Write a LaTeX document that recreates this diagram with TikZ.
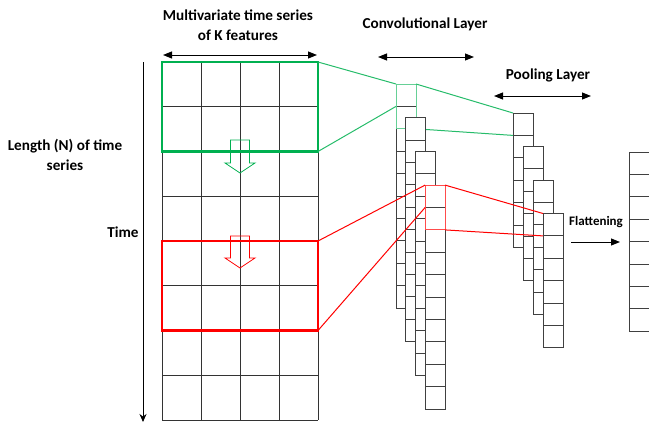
\documentclass[tikz,border=0pt]{standalone}
\usepackage{fontspec}
\setmainfont{Carlito}
\usepackage{xcolor}
\usetikzlibrary{arrows.meta}
\definecolor{winGreen}{RGB}{0,176,80}

\begin{document}
\begin{tikzpicture}[x=1pt, y=-1pt,
    gridline/.style={draw=black!80, line width=0.9pt},
    cell/.style={draw=black!75, fill=white, line width=0.9pt},
    greenwin/.style={draw=winGreen, line width=2.4pt},
    redwin/.style={draw=red, line width=2.4pt},
    glink/.style={draw=winGreen!85, line width=1pt},
    rlink/.style={draw=red, line width=1pt},
    span/.style={{Triangle[length=9pt,width=7pt]}-{Triangle[length=9pt,width=7pt]}, line width=1pt},
    label/.style={font=\bfseries\fontsize{15.2}{20}\selectfont, align=center}
]
    \useasboundingbox (0,0) rectangle (649,426);
    \clip (0,0) rectangle (649,426);

    % Labels
    \node[label] (inlab) at (238,25) {Multivariate time series\\of K features};
    \node[label] (convlab) at (425,24) {Convolutional Layer};
    \node[label] (poollab) at (548,75) {Pooling Layer};
    \node[label] (lenlab) at (65,155) {Length (N) of time\\series};
    \node[label] (timelab) at (123,232) {Time};
    \node[font=\bfseries\fontsize{13}{15}\selectfont] (flatlab) at (596,222) {Flattening};

    % Span arrows
    \coordinate (inL) at (163,55);   \coordinate (inR) at (317,55);
    \coordinate (convL) at (378,57); \coordinate (convR) at (474,57);
    \coordinate (poolL) at (494,96); \coordinate (poolR) at (591,96);
    \draw[span] (inL) -- (inR);
    \draw[span] (convL) -- (convR);
    \draw[span] (poolL) -- (poolR);

    % Time axis
    \coordinate (tTop) at (143,62);
    \coordinate (tBot) at (143,422);
    \draw[-{Stealth[length=8pt,width=7pt]}, line width=1pt] (tTop) -- (tBot);

    % Input grid: K = 4 columns, N = 8 rows
    \foreach \i in {0,...,4}
        \draw[gridline] ({162+39*\i},62) -- ({162+39*\i},420);
    \foreach \j in {0,...,8}
        \draw[gridline] (162,{62+44.75*\j}) -- (318,{62+44.75*\j});

    % Sliding windows
    \draw[greenwin] (162,62) rectangle (318,151.5);
    \draw[redwin] (162,241) rectangle (318,330.5);
    \coordinate (gTop) at (318,62);  \coordinate (gBot) at (318,151.5);
    \coordinate (rTop) at (318,241); \coordinate (rBot) at (318,330.5);

    % Window shift arrows
    \draw[winGreen, line width=0.8pt] (230.5,140) -- (249.5,140) -- (249.5,163) -- (255,163)
        -- (240,173) -- (225,163) -- (230.5,163) -- cycle;
    \draw[red, line width=0.8pt] (230.5,236) -- (249.5,236) -- (249.5,258) -- (255,258)
        -- (240,268) -- (225,258) -- (230.5,258) -- cycle;

    % Convolutional layer (first feature map)
    \foreach \c in {0,...,9}
        \draw[cell] (396,{84+22.4*\c}) rectangle +(20,22.4);
    \draw[draw=winGreen!60, line width=1pt] (396,84) rectangle +(20,44.8);
    \coordinate (c1TL) at (396,84);  \coordinate (c1ML) at (396,106.4);
    \coordinate (c1TR) at (416,84);  \coordinate (c1BR) at (416,128.8);
    \coordinate (p1TL) at (513,113); \coordinate (p1ML) at (513,135.4);
    \draw[glink] (gTop) -- (c1TL);
    \draw[glink] (gBot) -- (c1ML);
    \draw[glink] (c1TR) -- (p1TL);
    \draw[glink] (c1BR) -- (p1ML);

    % Remaining feature maps
    \foreach \k in {1,...,3}
        \foreach \c in {0,...,9}
            \draw[cell] ({396+9.7*\k},{84+33.7*\k+22.4*\c}) rectangle +(20,22.4);
    \draw[draw=red!70, line width=1pt] (425.1,185.1) rectangle +(20,44.8);
    \coordinate (c4TL) at (425.1,185.1); \coordinate (c4ML) at (425.1,207.5);
    \coordinate (c4TR) at (445.1,185.1); \coordinate (c4BR) at (445.1,229.9);
    \draw[rlink] (rTop) -- (c4TL);
    \draw[rlink] (rBot) -- (c4ML);

    % Pooling layer
    \foreach \k in {0,...,3}
        \foreach \c in {0,...,5}
            \draw[cell] ({513+10*\k},{113+33.5*\k+22.4*\c}) rectangle +(20,22.4);
    \coordinate (p4TL) at (543,213.5); \coordinate (p4ML) at (543,235.9);
    \draw[rlink] (c4TR) -- (p4TL);
    \draw[rlink] (c4BR) -- (p4ML);

    % Flattening
    \coordinate (fL) at (571,242);
    \coordinate (fR) at (620,242);
    \draw[-{Triangle[length=9pt,width=7pt]}, line width=1pt] (fL) -- (fR);
    \foreach \c in {0,...,7}
        \draw[cell] (629,{152+22.4*\c}) rectangle +(22,22.4);
\end{tikzpicture}
\end{document}
